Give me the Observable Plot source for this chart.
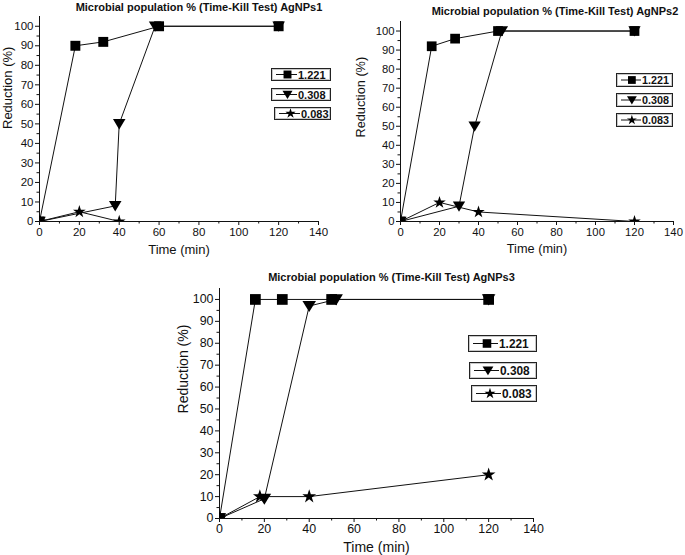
<!DOCTYPE html>
<html>
<head>
<meta charset="utf-8">
<script src="https://cdn.jsdelivr.net/npm/d3@7"></script>
<script src="https://cdn.jsdelivr.net/npm/@observablehq/plot@0.6"></script>
<style>
  html, body { margin: 0; padding: 0; background: #fff; }
  #root { position: relative; width: 685px; height: 555px; overflow: hidden; font-family: "Liberation Sans", Arial, sans-serif; }
  .panel { position: absolute; }
  .legend { position: absolute; box-sizing: border-box; border: 1px solid #222; box-shadow: inset 0 0 0 1px #c8c8c8; background: #fff; display: flex; align-items: center; font-weight: bold; color: #111; white-space: nowrap; }
  .legend svg { flex: none; }
</style>
</head>
<body>
<div id="root"></div>
<script>
// ---------- data ----------
const SERIES = ["1.221", "0.308", "0.083"];
const TITLES = [
  "Microbial population % (Time-Kill Test) AgNPs1",
  "Microbial population % (Time-Kill Test) AgNPs2",
  "Microbial population % (Time-Kill Test) AgNPs3"
];
const X_LABEL = "Time (min)";
const Y_LABEL = "Reduction (%)";
const X_TICKS = [0, 20, 40, 60, 80, 100, 120, 140];
const Y_TICKS = [0, 10, 20, 30, 40, 50, 60, 70, 80, 90, 100];

// AgNPs1
const p1Time1221 = [0, 18, 32, 60, 120];
const p1Red1221  = [0, 90, 92, 100, 100];
const p1Time0308 = [0, 38, 40, 58, 120];
const p1Red0308  = [0, 8, 50, 100, 100];
const p1Time0083 = [0, 20, 40];
const p1Red0083  = [0, 5, 0];
// AgNPs2
const p2Time1221 = [0, 16, 28, 50, 120];
const p2Red1221  = [0, 92, 96, 100, 100];
const p2Time0308 = [0, 30, 38, 52, 120];
const p2Red0308  = [0, 8, 50, 100, 100];
const p2Time0083 = [0, 20, 40, 120];
const p2Red0083  = [0, 10, 5, 0];
// AgNPs3
const p3Time1221 = [0, 16, 28, 50, 120];
const p3Red1221  = [0, 100, 100, 100, 100];
const p3Time0308 = [0, 20, 40, 52, 120];
const p3Red0308  = [0, 9, 97, 100, 100];
const p3Time0083 = [0, 18, 40, 120];
const p3Red0083  = [0, 10, 10, 20];

// ---------- symbols ----------
const triangleDown = {
  draw(ctx, size) {
    const r = Math.sqrt(size / Math.PI);
    const w = r * 1.12, h1 = r * 0.85, h2 = r * 1.0;
    ctx.moveTo(-w, -h1); ctx.lineTo(w, -h1); ctx.lineTo(0, h2); ctx.closePath();
  }
};
const SYMBOLS = [d3.symbolSquare, triangleDown, d3.symbolStar];
const RADII = [5.6, 5.6, 4.0];

// ---------- layout ----------
const panels = [
  { title: TITLES[0], left: 0, top: 0, width: 340, height: 260, k: 1,
    m: { left: 39, right: 22, top: 16, bottom: 39 },
    titleDx: 20, titleDy: -9, yLabDx: -32, yLabDy: 10, xLabDy: 28,
    series: [[p1Time1221, p1Red1221], [p1Time0308, p1Red0308], [p1Time0083, p1Red0083]],
    legend: { left: 271, width: 60, height: 13, tops: [68, 88, 107], shifts: [0, 0, 3] } },
  { title: TITLES[1], left: 340, top: 0, width: 345, height: 260, k: 0.98,
    m: { left: 60, right: 12, top: 21, bottom: 39 },
    titleDx: 18, titleDy: -10, yLabDx: -40, yLabDy: 16, xLabDy: 28,
    series: [[p2Time1221, p2Red1221], [p2Time0308, p2Red0308], [p2Time0083, p2Red0083]],
    legend: { left: 616, width: 57, height: 14, tops: [73, 93, 113], shifts: [0, 0, 0] } },
  { title: TITLES[2], left: 170, top: 260, width: 380, height: 295, k: 1.08,
    m: { left: 49, right: 17, top: 28, bottom: 37 },
    titleDx: 15, titleDy: -11, yLabDx: -36, yLabDy: 10, xLabDy: 27,
    series: [[p3Time1221, p3Red1221], [p3Time0308, p3Red0308], [p3Time0083, p3Red0083]],
    legend: { left: 468, width: 69, height: 17, tops: [335, 362, 385], shifts: [0, 1, 3] } }
];

const root = document.getElementById("root");
const FONT = "'Liberation Sans', Arial, Helvetica, sans-serif";

panels.forEach(p => {
  const rows = [];
  p.series.forEach(([ts, rs], i) => ts.forEach((t, j) => rows.push({ t, r: rs[j], s: SERIES[i] })));
  const k = p.k;
  const dotMarks = SERIES.map((s, i) =>
    Plot.dot(rows.filter(d => d.s === s), {
      x: "t", y: "r", symbol: SYMBOLS[i], r: RADII[i] * k, fill: "#000", stroke: "none", clip: true
    })
  );
  const chart = Plot.plot({
    width: p.width, height: p.height,
    marginLeft: p.m.left, marginRight: p.m.right, marginTop: p.m.top, marginBottom: p.m.bottom,
    style: { fontFamily: FONT, fontSize: `${11.5 * k}px`, color: "#111", background: "transparent", overflow: "visible" },
    x: { domain: [0, 140] },
    y: { domain: [0, 105] },
    marks: [
      Plot.ruleY([0], { stroke: "#111", strokeWidth: 1 }),
      Plot.ruleX([0], { stroke: "#111", strokeWidth: 1 }),
      Plot.axisX({ ticks: X_TICKS, tickSize: 4, tickPadding: 2, label: null, stroke: "#111" }),
      Plot.axisX({ ticks: d3.range(10, 140, 20), tickSize: 2.5, tickFormat: () => "", label: null, stroke: "#111" }),
      Plot.axisY({ ticks: Y_TICKS, tickSize: 4, tickPadding: 2, label: null, stroke: "#111" }),
      Plot.axisY({ ticks: d3.range(5, 101, 10), tickSize: 2.5, tickFormat: () => "", label: null, stroke: "#111" }),
      Plot.text([X_LABEL], { frameAnchor: "bottom", dy: p.xLabDy * k, fontSize: 13 * k, lineAnchor: "middle" }),
      Plot.text([Y_LABEL], { frameAnchor: "left", rotate: -90, dx: p.yLabDx, dy: p.yLabDy, fontSize: 13 * k, lineAnchor: "middle" }),
      Plot.text([p.title], { frameAnchor: "top", dx: p.titleDx, dy: p.titleDy, fontSize: 11, fontWeight: "bold", lineAnchor: "middle" }),
      Plot.line(rows, { x: "t", y: "r", z: "s", stroke: "#111", strokeWidth: 1 }),
      ...dotMarks
    ]
  });
  chart.classList.add("panel");
  chart.style.left = p.left + "px";
  chart.style.top = p.top + "px";
  root.appendChild(chart);

  // legend boxes
  SERIES.forEach((s, i) => {
    const L = p.legend;
    const box = document.createElement("div");
    box.className = "legend";
    box.style.left = (L.left + L.shifts[i]) + "px";
    box.style.top = L.tops[i] + "px";
    box.style.width = (L.width - L.shifts[i]) + "px";
    box.style.height = L.height + "px";
    box.style.fontSize = (11 * k) + "px";
    const sw = Math.round(L.width * 0.42);
    const svg = d3.create("svg").attr("width", sw).attr("height", L.height - 2);
    const cy = (L.height - 2) / 2;
    svg.append("line").attr("x1", 4).attr("x2", sw).attr("y1", cy).attr("y2", cy).attr("stroke", "#111").attr("stroke-width", 1);
    const rr = RADII[i] * 0.8 * k;
    svg.append("path")
      .attr("d", d3.symbol(SYMBOLS[i], Math.PI * rr * rr)())
      .attr("transform", `translate(${sw * 0.62},${cy})`)
      .attr("fill", "#000");
    box.appendChild(svg.node());
    const span = document.createElement("span");
    span.textContent = s;
    span.style.marginLeft = "1px";
    box.appendChild(span);
    root.appendChild(box);
  });
});
</script>
</body>
</html>
